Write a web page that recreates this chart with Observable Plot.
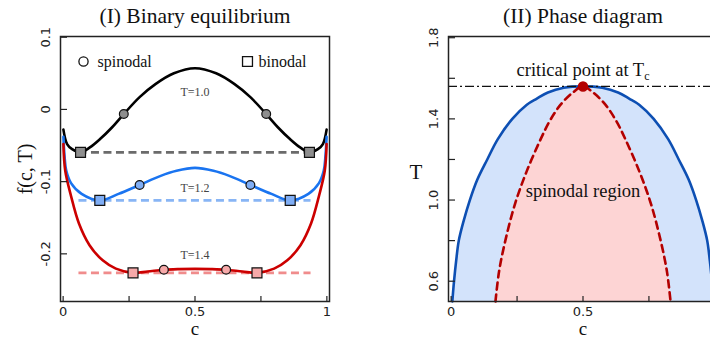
<!DOCTYPE html>
<html>
<head>
<meta charset="utf-8">
<script src="https://cdn.jsdelivr.net/npm/d3@7"></script>
<script src="https://cdn.jsdelivr.net/npm/@observablehq/plot@0.6"></script>
<style>
  html, body { margin: 0; padding: 0; background: #fff; width: 710px; height: 340px; overflow: hidden; }
  #wrap { position: relative; width: 710px; height: 340px; overflow: hidden; }
  #left { position: absolute; left: 0; top: 0; width: 355px; height: 340px; }
  #right { position: absolute; left: 355px; top: 0; width: 370px; height: 340px; }
  #left svg, #right svg { max-width: none !important; }
</style>
</head>
<body>
<div id="wrap"><div id="left"></div><div id="right"></div></div>
<script>
// ---- Panel I: free energy f(c, T) at three temperatures ----
const temps = [1.0, 1.2, 1.4];
const tempLabels = ["T=1.0", "T=1.2", "T=1.4"];

const cT10 = [0.001, 0.015, 0.034, 0.066, 0.10, 0.14, 0.185, 0.23, 0.29, 0.35, 0.42, 0.5, 0.58, 0.65, 0.71, 0.77, 0.815, 0.86, 0.90, 0.934, 0.966, 0.985, 0.999];
const fT10 = [-0.028, -0.048, -0.055, -0.0595, -0.053, -0.041, -0.025, -0.0064, 0.017, 0.035, 0.050, 0.057, 0.050, 0.035, 0.017, -0.0064, -0.025, -0.041, -0.053, -0.0595, -0.055, -0.048, -0.028];

const cT12 = [0.001, 0.005, 0.012, 0.03, 0.07, 0.139, 0.21, 0.29, 0.37, 0.43, 0.5, 0.57, 0.63, 0.71, 0.79, 0.861, 0.93, 0.97, 0.988, 0.995, 0.999];
const fT12 = [-0.038, -0.063, -0.085, -0.102, -0.117, -0.126, -0.117, -0.1046, -0.092, -0.085, -0.081, -0.085, -0.092, -0.1046, -0.117, -0.126, -0.117, -0.102, -0.085, -0.063, -0.038];

const cT14 = [0.001, 0.008, 0.03, 0.06, 0.1, 0.15, 0.2, 0.265, 0.32, 0.382, 0.44, 0.5, 0.56, 0.618, 0.68, 0.735, 0.8, 0.85, 0.9, 0.94, 0.97, 0.992, 0.999];
const fT14 = [-0.048, -0.085, -0.12, -0.158, -0.188, -0.209, -0.2205, -0.2263, -0.2245, -0.222, -0.2211, -0.2208, -0.2211, -0.222, -0.2245, -0.2263, -0.2205, -0.209, -0.188, -0.158, -0.12, -0.085, -0.048];

// spinodal (inflection) and binodal (common tangent) points per temperature
const spinodalLeft = [0.23, 0.29, 0.382];
const spinodalRight = [0.77, 0.71, 0.618];
const spinodalF = [-0.0064, -0.1046, -0.222];
const binodalLeft = [0.066, 0.139, 0.265];
const binodalRight = [0.934, 0.861, 0.735];
const binodalF = [-0.0595, -0.126, -0.2263];
const tieFrom = 0.06, tieTo = 0.94;

const fTicks = [-0.2, -0.1, 0, 0.1];
const fTickLabels = ["-0.2", "-0.1", "0", "0.1"];
const cTicks = [0, 0.25, 0.5, 0.75, 1];
const cLabelTicks = [0, 0.5, 1];
const cTickLabels = ["0", "0.5", "1"];

// ---- Panel II: phase diagram ----
const binodalT = [0.5, 0.6, 0.7, 0.8, 0.9, 1.0, 1.1, 1.2, 1.3, 1.4, 1.47, 1.5, 1.53, 1.553, 1.56];
const binodalCL = [0.0045, 0.011, 0.019, 0.029, 0.048, 0.071, 0.099, 0.137, 0.177, 0.232, 0.287, 0.325, 0.367, 0.427, 0.5];
const binodalCR = [0.9955, 0.989, 0.981, 0.971, 0.952, 0.929, 0.901, 0.863, 0.823, 0.768, 0.713, 0.675, 0.633, 0.573, 0.5];

const spinodalT = [0.5, 0.65, 0.8, 0.98, 1.14, 1.3, 1.39, 1.47, 1.53, 1.56];
const spinodalCL = [0.168, 0.182, 0.2055, 0.242, 0.286, 0.3395, 0.374, 0.415, 0.4615, 0.5];
const spinodalCR = [0.832, 0.818, 0.7945, 0.758, 0.714, 0.6605, 0.626, 0.585, 0.5385, 0.5];

const criticalC = 0.5;
const criticalT = 1.56;

const tTicks = [0.6, 0.8, 1.0, 1.2, 1.4, 1.6, 1.8];
const tLabelTicks = [0.6, 1.0, 1.4, 1.8];
const tTickLabels = ["0.6", "1.0", "1.4", "1.8"];
// the c = 1 label of panel II falls beyond the page edge
const cLabelTicksII = [0, 0.5];
const cTickLabelsII = ["0", "0.5"];

// ---- shared styling ----
const SERIF = "Liberation Serif";
const SANS = "DejaVu Sans";
const FRAME = "#222";
const frameH = 265, frameW = 269;

const series = [
  {c: cT10, f: fT10, line: "#000000", tie: "#6b6b6b", face: "#8e8e8e"},
  {c: cT12, f: fT12, line: "#1a74f0", tie: "#88b5f5", face: "#80aef5"},
  {c: cT14, f: fT14, line: "#cc0000", tie: "#f08c8c", face: "#f7a9a9"}
];

const curveRows = series.flatMap((s, k) => s.c.map((c, i) => ({k, c, f: s.f[i]})));
const tieRows = temps.map((t, k) => ({k, f: binodalF[k]}));
const spinRows = temps.flatMap((t, k) => [
  {k, c: spinodalLeft[k], f: spinodalF[k]},
  {k, c: spinodalRight[k], f: spinodalF[k]}
]);
const binRows = temps.flatMap((t, k) => [
  {k, c: binodalLeft[k], f: binodalF[k]},
  {k, c: binodalRight[k], f: binodalF[k]}
]);
// labels sit just below (T=1.0, 1.2) or above (T=1.4) the curve's middle
const labelOffset = [-0.0325, -0.0284, 0.0191];
const labelRows = temps.map((t, k) => ({k, text: tempLabels[k], f: series[k].f[series[k].c.indexOf(0.5)] + labelOffset[k]}));

const left = Plot.plot({
  width: 355, height: 340,
  marginLeft: 60, marginRight: 26, marginTop: 36, marginBottom: 39,
  x: {domain: [-0.01, 1.01], axis: null},
  y: {domain: [-0.266, 0.101], axis: null},
  style: {background: "white"},
  marks: [
    // dashed common-tangent lines
    Plot.ruleY(tieRows, {y: "f", x1: () => tieFrom, x2: () => tieTo, stroke: d => series[d.k].tie, strokeWidth: 2.6, strokeDasharray: "8,4.5"}),
    // free-energy curves
    ...series.map((s, k) => Plot.line(curveRows.filter(d => d.k === k), {x: "c", y: "f", stroke: s.line, strokeWidth: 2.6, curve: "catmull-rom"})),
    // markers
    Plot.dot(spinRows, {x: "c", y: "f", r: 4.4, symbol: "circle", fill: d => series[d.k].face, stroke: "#111", strokeWidth: 1.2}),
    Plot.dot(binRows, {x: "c", y: "f", r: 5.6, symbol: "square", fill: d => series[d.k].face, stroke: "#111", strokeWidth: 1.2}),
    // temperature labels
    Plot.text(labelRows, {x: () => 0.5, y: "f", text: "text", fontFamily: SERIF, fontSize: 12, fill: "#444", lineAnchor: "middle"}),
    // legend
    Plot.dot([0], {frameAnchor: "top-left", dx: 23, dy: 25, r: 4.6, symbol: "circle", fill: "white", stroke: "#111", strokeWidth: 1.3}),
    Plot.text(["spinodal"], {frameAnchor: "top-left", dx: 37, dy: 25, textAnchor: "start", lineAnchor: "middle", fontFamily: SERIF, fontSize: 16, fill: "#111"}),
    Plot.dot([0], {frameAnchor: "top-left", dx: 187, dy: 25, r: 5.6, symbol: "square", fill: "white", stroke: "#111", strokeWidth: 1.3}),
    Plot.text(["binodal"], {frameAnchor: "top-left", dx: 198, dy: 25, textAnchor: "start", lineAnchor: "middle", fontFamily: SERIF, fontSize: 16, fill: "#111"}),
    // inward ticks
    Plot.tickX(cTicks, {x: d => d, insetTop: frameH - 5, stroke: FRAME, strokeWidth: 1.2}),
    Plot.tickY(fTicks, {y: d => d, insetRight: frameW - 7, stroke: FRAME, strokeWidth: 1.2}),
    // tick labels
    Plot.text(cLabelTicks, {x: d => d, frameAnchor: "bottom", dy: 10.5, text: (d, i) => cTickLabels[i], fontFamily: SANS, fontSize: 13, fill: "#222", lineAnchor: "middle"}),
    Plot.text(fTicks, {y: d => d, frameAnchor: "left", dx: -15, rotate: -90, text: (d, i) => fTickLabels[i], fontFamily: SANS, fontSize: 13, fill: "#222", lineAnchor: "middle", textAnchor: "middle"}),
    // axis titles
    Plot.text(["c"], {x: () => 0.5, frameAnchor: "bottom", dy: 27.5, fontFamily: SERIF, fontSize: 19, fill: "#111", lineAnchor: "middle"}),
    Plot.text(["f(c, T)"], {frameAnchor: "left", dx: -35, rotate: -90, fontFamily: SERIF, fontSize: 20, fill: "#111", lineAnchor: "middle", textAnchor: "middle"}),
    // panel title
    Plot.text(["(I) Binary equilibrium"], {x: () => 0.5, frameAnchor: "top", dy: -20, fontFamily: SERIF, fontSize: 21.5, fill: "#111", lineAnchor: "middle"}),
    Plot.frame({stroke: FRAME, strokeWidth: 1.5})
  ]
});
document.getElementById("left").appendChild(left);

// closed outlines of the two-phase and spinodal regions
function outline(T, CL, CR) {
  const up = T.map((t, i) => ({c: CL[i], T: t}));
  const down = T.map((t, i) => ({c: CR[i], T: t})).reverse().slice(1);
  return up.concat(down);
}
const binodalPath = outline(binodalT, binodalCL, binodalCR);
const spinodalPath = outline(spinodalT, spinodalCL, spinodalCR);

const right = Plot.plot({
  width: 370, height: 340,
  marginLeft: 93, marginRight: 8, marginTop: 36, marginBottom: 39,
  x: {domain: [-0.01, 1.01], axis: null},
  y: {domain: [0.5, 1.806], axis: null},
  style: {background: "white", overflow: "hidden", maxWidth: "none"},
  marks: [
    Plot.line(binodalPath, {x: "c", y: "T", fill: "#d3e3fb", stroke: "none", curve: "catmull-rom"}),
    Plot.line(spinodalPath, {x: "c", y: "T", fill: "#fdd4d4", stroke: "none", curve: "catmull-rom"}),
    Plot.line(binodalPath, {x: "c", y: "T", stroke: "#0d4fb3", strokeWidth: 2.6, curve: "catmull-rom"}),
    Plot.line(spinodalPath, {x: "c", y: "T", stroke: "#b30000", strokeWidth: 2.6, strokeDasharray: "7,5", curve: "catmull-rom"}),
    Plot.ruleY([criticalT], {stroke: "#111", strokeWidth: 1.3, strokeDasharray: "9,3,2,3"}),
    Plot.dot([{c: criticalC, T: criticalT}], {x: "c", y: "T", r: 4.5, fill: "#b30000", stroke: "#b30000"}),
    Plot.text(["critical point at T"], {x: () => 0.5, y: () => 1.64, fontFamily: SERIF, fontSize: 18.5, fill: "#111", lineAnchor: "middle"}),
    Plot.text(["spinodal region"], {x: () => 0.5, y: () => 1.043, fontFamily: SERIF, fontSize: 18.5, fill: "#111", lineAnchor: "middle"}),
    Plot.tickX(cTicks, {x: d => d, insetTop: frameH - 5, stroke: FRAME, strokeWidth: 1.2}),
    Plot.tickY(tTicks, {y: d => d, insetRight: frameW - 7, stroke: FRAME, strokeWidth: 1.2}),
    Plot.text(cLabelTicksII, {x: d => d, frameAnchor: "bottom", dy: 10.5, text: (d, i) => cTickLabelsII[i], fontFamily: SANS, fontSize: 13, fill: "#222", lineAnchor: "middle"}),
    Plot.text(tLabelTicks, {y: d => d, frameAnchor: "left", dx: -15, rotate: -90, text: (d, i) => tTickLabels[i], fontFamily: SANS, fontSize: 13, fill: "#222", lineAnchor: "middle", textAnchor: "middle"}),
    Plot.text(["c"], {x: () => 0.5, frameAnchor: "bottom", dy: 27.5, fontFamily: SERIF, fontSize: 19, fill: "#111", lineAnchor: "middle"}),
    Plot.text(["T"], {frameAnchor: "left", dx: -39, dy: 3, fontFamily: SERIF, fontSize: 21, fill: "#111", lineAnchor: "middle"}),
    Plot.text(["(II) Phase diagram"], {x: () => 0.5, frameAnchor: "top", dy: -20, fontFamily: SERIF, fontSize: 21.5, fill: "#111", lineAnchor: "middle"}),
    Plot.frame({stroke: FRAME, strokeWidth: 1.5})
  ]
});
document.getElementById("right").appendChild(right);

// subscript c on T_c
d3.select(right).selectAll("text")
  .filter(function () { return this.textContent === "critical point at T"; })
  .append("tspan")
  .attr("font-size", "12px")
  .attr("dy", "4")
  .text("c");
</script>
</body>
</html>
